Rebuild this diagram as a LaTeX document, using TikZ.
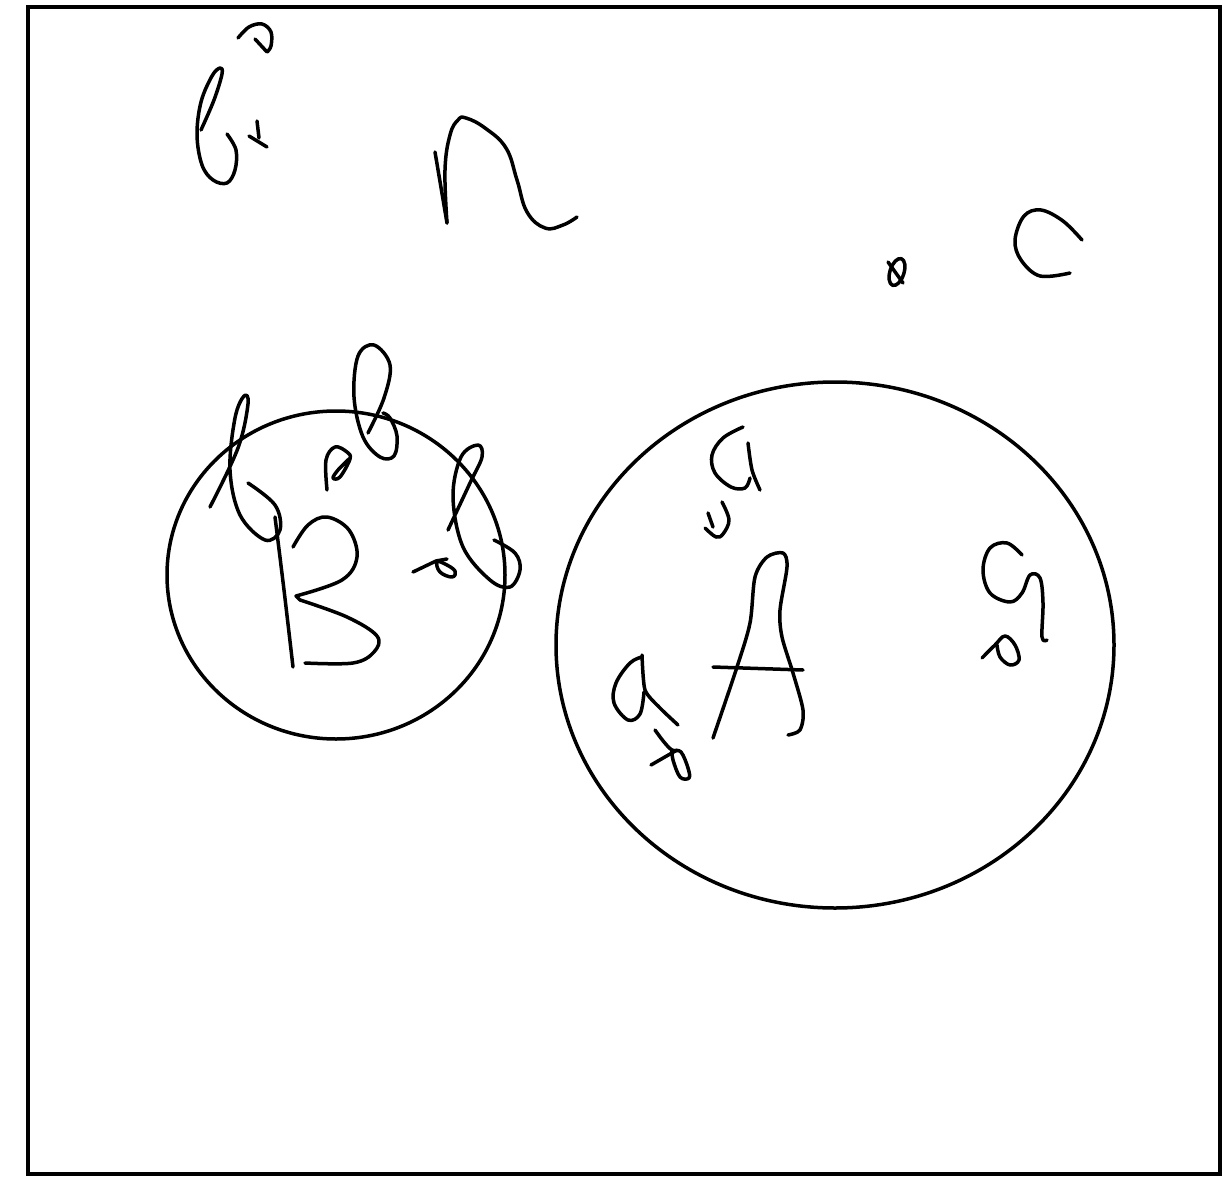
\documentclass[tikz,border=0pt]{standalone}
\begin{document}
\begin{tikzpicture}[x=1pt,y=-1pt,
  ink/.style={line width=3.5pt,line cap=round,line join=round},
  frame/.style={line width=3.8pt}]
\useasboundingbox (0,0) rectangle (1229,1180);
\fill[white] (0,0) rectangle (1229,1180);
\draw[frame] (28,7) rectangle (1220,1174);
% set circles
\draw[ink] (336,575) ellipse [x radius=169, y radius=164];
\draw[ink] (835,645) ellipse [x radius=279, y radius=263];
% top-left scribbles
\draw[ink] plot[smooth,tension=0.6] coordinates {(201,130) (214,100) (222,74) (220,68) (212,76) (201,102) (197,135) (202,165) (213,180) (227,183) (235,170) (236,150) (227,134)};
\draw[ink] (257,121) -- (259,138);
\draw[ink] (249,136) -- (267,147);
\draw[ink] plot[smooth,tension=0.6] coordinates {(238,38) (249,27) (262,24) (271,32) (271,46) (267,52)} -- (255,39);
% n
\draw[ink] (435,152) -- (447,223);
\draw[ink] plot[smooth,tension=0.7] coordinates {(447,223) (445,170) (450,135) (458,120) (466,118) (485,128) (506,148) (517,180) (527,212) (545,228) (563,225) (577,217)};
% small o
\draw[ink] (897,272) ellipse [x radius=7, y radius=14, rotate=-18];
\draw[ink] (888,262) -- (903,283);
% C
\draw[ink] plot[smooth,tension=0.6] coordinates {(1082,240) (1063,221) (1041,210) (1024,216) (1015,240) (1021,260) (1040,276) (1070,273)};
% B region scribbles
\draw[ink] plot[smooth,tension=0.6] coordinates {(210,507) (238,448) (248,404) (244,396) (235,418) (230,470) (240,515) (265,540) (280,530) (275,505) (248,483)};
\draw[ink] plot[smooth,tension=0.5] coordinates {(275,517) (284,590) (293,667)};
\draw[ink] plot[smooth,tension=0.6] coordinates {(293,547) (308,525) (327,517) (349,530) (357,557) (342,580) (296,596)} -- (300,600);
\draw[ink] plot[smooth,tension=0.6] coordinates {(300,600) (347,617) (377,636) (374,652) (353,663) (305,663)};
\draw[ink] plot[smooth,tension=0.6] coordinates {(327,490) (326,460) (335,447) (347,452) (350,459) (340,477) (333,478) (338,470) (349,459)};
\draw[ink] plot[smooth,tension=0.6] coordinates {(368,433) (384,398) (390,365) (374,345) (358,356) (354,397) (363,437) (380,457) (394,456) (397,436) (390,418) (383,413)};
\draw[ink] plot[smooth,tension=0.6] coordinates {(448,530) (470,483) (482,457) (478,445) (461,457) (453,497) (463,547) (490,580) (510,587) (520,570) (515,553) (494,540)};
\draw[ink] (413,572) -- (436,561) -- (447,559);
\draw[ink] plot[smooth cycle,tension=0.7] coordinates {(437,562) (440,572) (452,577) (455,571) (445,564)};
% A region scribbles
\draw[ink] plot[smooth,tension=0.6] coordinates {(743,427) (723,438) (712,455) (715,473) (731,487) (745,488) (750,478)};
\draw[ink] plot[smooth,tension=0.5] coordinates {(748,443) (752,470) (760,490)};
\draw[ink] plot[smooth,tension=0.6] coordinates {(722,502) (729,520) (723,534) (716,537) (705,528)};
\draw[ink] (708,513) -- (713,527);
\draw[ink] plot[smooth,tension=0.5] coordinates {(713,738) (737,667) (750,623) (755,577) (767,557) (783,553) (787,567) (780,610) (782,637) (793,673) (803,710) (800,730) (788,735)};
\draw[ink] (713,667) -- (803,670);
\draw[ink] plot[smooth,tension=0.6] coordinates {(642,657) (630,663) (616,683) (614,703) (628,720) (640,714) (644,692)};
\draw[ink] plot[smooth,tension=0.4] coordinates {(642,655) (645,690) (660,708) (678,725)};
\draw[ink] plot[smooth,tension=0.6] coordinates {(655,730) (664,742) (672,750) (681,752) (688,768) (689,778) (680,777) (673,760) (672,750)};
\draw[ink] (651,765) -- (677,750);
\draw[ink] plot[smooth,tension=0.6] coordinates {(1022,555) (1007,543) (990,548) (983,570) (990,593) (1010,602) (1022,593) (1030,575) (1040,578) (1043,603) (1042,637) (1047,640)};
\draw[ink] plot[smooth,tension=0.6] coordinates {(982,658) (995,645) (1005,636) (1015,645) (1019,660) (1010,665) (1000,657) (997,645)};
\end{tikzpicture}
\end{document}
